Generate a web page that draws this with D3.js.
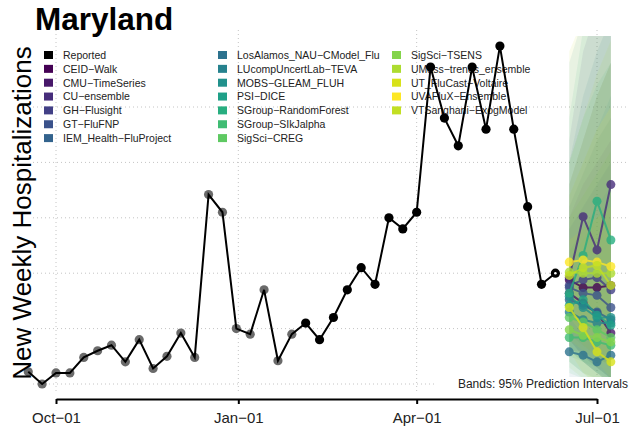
<!DOCTYPE html>
<html>
<head>
<meta charset="utf-8">
<script src="https://cdn.jsdelivr.net/npm/d3@7"></script>
<style>
body { margin: 0; background: #fff; }
text { font-family: "Liberation Sans", Arial, Helvetica, sans-serif; }
</style>
</head>
<body>
<svg id="chart" width="629" height="436"></svg>
<script>
// weekly reported counts, weeks ending on Saturday starting 2022-09-17
const firstWeek = "2022-09-17";
const reported = [11, 0, 10, 10, 24, 30, 35, 20, 40, 14, 25, 46, 24, 171, 155, 50, 45, 85, 21, 45,
  55, 40, 60, 85, 105, 90, 150, 140, 155, 286, 240, 215, 286, 230, 305, 230, 160, 90, 100];
const olderWeeks = 20; // first weeks drawn with grey markers

const monthTicks = ["2022-10-01", "2023-01-01", "2023-04-01", "2023-07-01"];
const gridValues = [0, 50, 100, 150, 200, 250];

const forecastDates = ["2023-06-17", "2023-06-24", "2023-07-01", "2023-07-08"];
const models = ["CEID-Walk", "CMU-TimeSeries", "CU-ensemble", "GH-Flusight", "GT-FluFNP",
  "IEM_Health-FluProject", "LosAlamos_NAU-CModel_Flu", "LUcompUncertLab-TEVA", "MOBS-GLEAM_FLUH",
  "PSI-DICE", "SGroup-RandomForest", "SGroup-SIkJalpha", "SigSci-CREG", "SigSci-TSENS",
  "UMass-trends_ensemble", "UT_FluCast-Voltaire", "UVAFluX-Ensemble", "VTSanghani-ExogModel"];

// point forecasts, one row per model, horizons 1-4
const fcPoint = [
  [94, 87, 87, 89], [82, 73, 64, 46], [96, 151, 121, 180], [89, 94, 96, 85], [87, 82, 80, 69],
  [76, 71, 65, 58], [29, 26, 20, 26], [65, 58, 55, 55], [79, 69, 60, 60], [71, 76, 62, 53],
  [82, 116, 165, 130], [42, 42, 38, 35], [60, 56, 49, 42], [49, 44, 42, 38], [101, 100, 100, 100],
  [69, 51, 29, 20], [110, 112, 110, 106], [98, 105, 107, 89]
];
// 95% interval bounds
const fcLower = [
  [40, 25, 15, 5], [35, 20, 10, 0], [30, 30, 20, 20], [45, 35, 25, 15], [40, 25, 15, 5],
  [30, 20, 10, 0], [5, 0, 0, 0], [20, 10, 5, 0], [35, 20, 10, 5], [30, 20, 10, 0],
  [25, 20, 15, 5], [10, 5, 0, 0], [20, 10, 0, 0], [15, 5, 0, 0], [50, 35, 25, 15],
  [30, 10, 0, 0], [60, 45, 30, 20], [40, 30, 20, 5]
];
const fcUpper = [
  [180, 220, 260, 290], [150, 180, 200, 220], [220, 300, 340, 360], [160, 190, 220, 240], [140, 160, 180, 200],
  [200, 260, 300, 330], [120, 140, 160, 180], [290, 330, 360, 380], [170, 200, 230, 260], [200, 240, 270, 290],
  [240, 320, 350, 370], [110, 130, 150, 170], [150, 170, 190, 210], [180, 220, 260, 290], [200, 240, 280, 310],
  [130, 140, 150, 160], [170, 200, 230, 250], [300, 330, 350, 380]
];

const svg = d3.select("#chart");
const parse = d3.utcParse("%Y-%m-%d");
const start = parse(firstWeek);
const weeks = reported.map((v, i) => d3.utcDay.offset(start, 7 * i));
const fDates = forecastDates.map(parse);

const x = d3.scaleUtc().domain([parse(monthTicks[0]), parse(monthTicks[3])]).range([56, 597]);
const y = d3.scaleLinear().domain([0, 250]).range([384, 107]);

const color = d3.scaleOrdinal()
  .domain(models)
  .range(models.map((m, i) => i < 17 ? d3.interpolateViridis(i / 16) : "#c2df23"));

svg.append("defs").append("clipPath").attr("id", "plot")
  .append("rect").attr("x", 0).attr("y", 36).attr("width", 629).attr("height", 356);

// grid
svg.append("g").selectAll("line").data(gridValues).join("line")
  .attr("x1", 33).attr("x2", 629)
  .attr("y1", d => y(d)).attr("y2", d => y(d))
  .attr("stroke", "#c4c4c4").attr("stroke-dasharray", "1,3");
svg.append("g").selectAll("line").data(monthTicks.map(parse)).join("line")
  .attr("x1", d => x(d)).attr("x2", d => x(d))
  .attr("y1", 30).attr("y2", 393)
  .attr("stroke", "#c4c4c4").attr("stroke-dasharray", "1,3");

// legend
const legendItems = [{ name: "Reported", col: "#000" }].concat(models.map(m => ({ name: m, col: color(m) })));
const legend = svg.append("g");
legendItems.forEach((d, i) => {
  const c = i < 7 ? 0 : (i < 14 ? 1 : 2);
  const r = i < 7 ? i : (i < 14 ? i - 7 : i - 14);
  const lx = [44, 218, 392][c], ly = 55 + r * 13.85;
  legend.append("rect").attr("x", lx).attr("y", ly - 4).attr("width", 9).attr("height", 8).attr("fill", d.col);
  legend.append("text").attr("x", lx + 19).attr("y", ly + 3.8)
    .attr("font-size", 10.5).attr("fill", "#222").text(d.name.replace(/-/g, "\u2212"));
});

const plot = svg.append("g").attr("clip-path", "url(#plot)");

// prediction bands
const area = d3.area().x((d, i) => x(fDates[i])).y0(d => y(d[0])).y1(d => y(d[1]));
models.forEach((m, k) => {
  plot.append("path")
    .datum(fcLower[k].map((lo, i) => [lo, fcUpper[k][i]]))
    .attr("d", area).attr("fill", color(m)).attr("fill-opacity", 0.085);
});

// white box behind the band note
svg.append("rect").attr("x", 437).attr("y", 377).attr("width", 192).attr("height", 15).attr("fill", "#fff");
svg.append("text").attr("x", 628).attr("y", 387.5).attr("text-anchor", "end")
  .attr("font-size", 12).attr("fill", "#222").text("Bands: 95% Prediction Intervals");

// reported
const line = d3.line().x((d, i) => x(weeks[i])).y(d => y(d));
plot.append("g").selectAll("circle").data(reported.slice(0, olderWeeks)).join("circle")
  .attr("cx", (d, i) => x(weeks[i])).attr("cy", d => y(d)).attr("r", 4.6).attr("fill", "#6a6a6a");
plot.append("path").datum(reported).attr("d", line)
  .attr("fill", "none").attr("stroke", "#000").attr("stroke-width", 2);
plot.append("g").selectAll("circle").data(reported.slice(olderWeeks)).join("circle")
  .attr("cx", (d, i) => x(weeks[i + olderWeeks])).attr("cy", d => y(d)).attr("r", 4.6).attr("fill", "#000");
const last = reported.length - 1;
plot.append("circle").attr("cx", x(weeks[last])).attr("cy", y(reported[last])).attr("r", 1.3).attr("fill", "#fff");

// forecasts
const fline = d3.line().x((d, i) => x(fDates[i])).y(d => y(d));
models.forEach((m, k) => {
  const g = plot.append("g").attr("opacity", 0.8);
  g.append("path").datum(fcPoint[k]).attr("d", fline)
    .attr("fill", "none").attr("stroke", color(m)).attr("stroke-width", 2);
  g.selectAll("circle").data(fcPoint[k]).join("circle")
    .attr("cx", (d, i) => x(fDates[i])).attr("cy", d => y(d)).attr("r", 4.5).attr("fill", color(m));
});

// x axis
const fmt = d3.utcFormat("%b-%d");
svg.append("g").attr("transform", "translate(0,399)")
  .call(d3.axisBottom(x).tickValues(monthTicks.map(parse)).tickSize(5).tickSizeOuter(0)
    .tickFormat(d => fmt(d).replace("-", "\u2212")))
  .call(g => g.select(".domain").attr("stroke-width", 2))
  .call(g => g.selectAll(".tick line").attr("stroke-width", 2))
  .call(g => g.selectAll(".tick text").attr("font-size", 15).attr("fill", "#222")
    .attr("dy", "0.71em").attr("y", 13)
    .attr("font-family", "'Liberation Sans', Arial, sans-serif"));

// titles
svg.append("text").attr("x", 35).attr("y", 30).attr("font-size", 31.5).attr("font-weight", "bold")
  .attr("fill", "#000").text("Maryland");
svg.append("text").attr("transform", "translate(31,213) rotate(-90)").attr("text-anchor", "middle")
  .attr("font-size", 26).attr("fill", "#000").text("New Weekly Hospitalizations");
</script>
</body>
</html>
